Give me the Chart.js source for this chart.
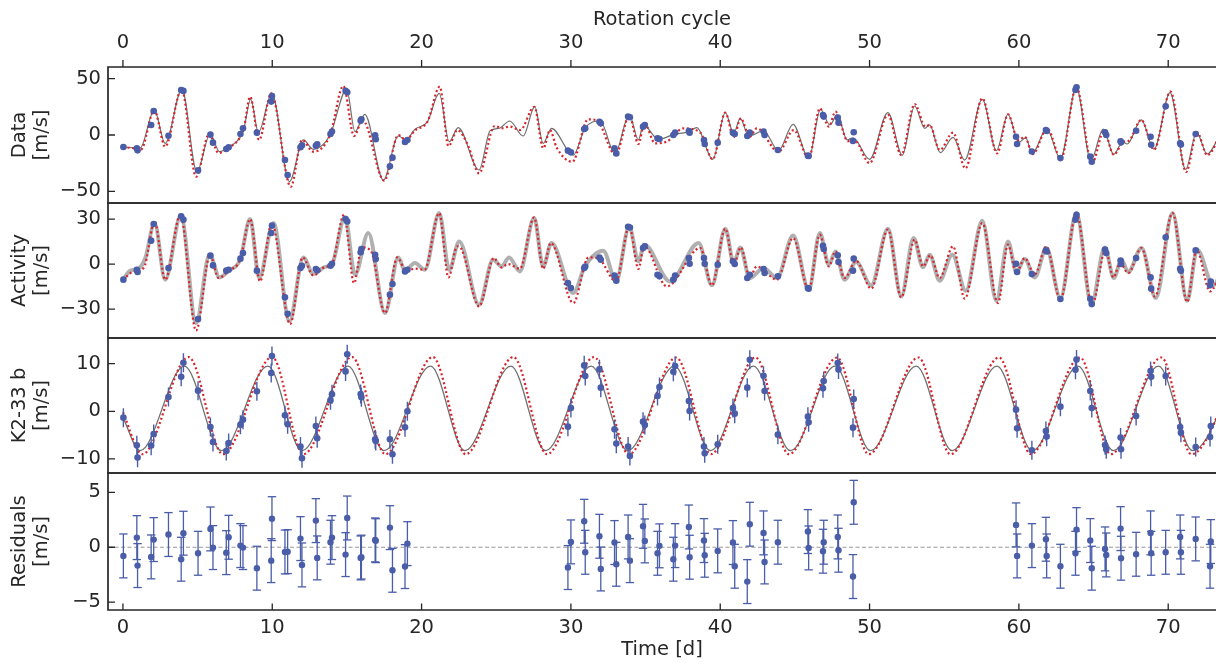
<!DOCTYPE html>
<html><head><meta charset="utf-8">
<script src="https://cdn.jsdelivr.net/npm/chart.js@4.4.1/dist/chart.umd.min.js"></script>
<style>
html,body{margin:0;padding:0;background:#fff;width:1216px;height:663px;overflow:hidden;}
canvas{position:absolute;left:0;}
</style></head><body>
<canvas id="c1" width="1216" height="210" style="top:0px"></canvas>
<canvas id="c2" width="1216" height="149" style="top:196px"></canvas>
<canvas id="c3" width="1216" height="149" style="top:331px"></canvas>
<canvas id="c4" width="1216" height="197" style="top:466px"></canvas>
<script>
// ---------------- DATA ----------------
const times = [0.03,0.93,0.98,1.89,2.06,3.05,3.9,4.05,5.03,5.86,6.03,6.92,7.08,7.87,8.04,8.97,9.93,9.98,10.85,11.03,11.89,11.99,12.92,13.01,13.9,14.0,14.91,15.02,15.92,15.97,16.89,16.93,17.88,18.05,18.89,19.05,
 29.8,30.0,30.89,30.96,31.91,32.0,32.92,33.04,33.83,33.95,34.83,34.95,35.8,35.93,36.86,36.98,37.9,37.95,38.91,38.96,39.83,40.85,40.97,41.81,41.98,42.9,42.97,43.86,45.87,45.92,46.88,46.93,47.87,47.92,48.89,48.94,
 59.81,59.88,60.87,61.81,61.86,62.78,63.79,63.86,64.78,64.88,65.77,65.85,66.81,66.84,67.85,68.82,68.86,69.83,70.8,70.85,71.84,72.8,72.85];
// (no data-panel points visible at 72.8 / 72.85)
const dataRV = [-10.7,-11.8,-13.6,8.9,21.3,-0.6,39.9,39.1,-31.4,0.3,-6.8,-12.4,-10.9,0.9,5.9,2.1,29.6,34.6,-22.2,-35.5,-10.9,-9.2,-9.5,-8.3,0.9,3.0,39.3,37.9,12.7,13.9,-0.3,-3.8,-27.8,-20.1,-6.2,-4.4,
 -13.9,-15.4,5.3,5.9,11.8,10.4,-11.8,-16.3,16.3,15.7,7.4,8.9,-3.0,-3.6,0,2.1,3.6,2.1,-4.4,-8.0,-6.8,2.1,0.9,-0.9,2.1,3.0,0,-13.3,-18.3,-18.6,17.8,16.3,15.4,10.9,-5.3,2.4,
 -1.5,-8.0,-14.6,4.4,3.6,-20.5,40.0,42.4,-19.2,-23.7,2.4,0,-5.6,-6.5,3.8,-1.5,-8.6,25.4,-7.4,-8.5,0.9,null,null];
const activityRV = [-10.4,-3.8,-5.3,15.6,26.7,-2.7,31.8,29.6,-36.7,5.6,-0.9,-4.4,-3.8,3.6,7.3,-4.4,20.7,25.6,-22.2,-33.1,-2.7,-1.1,-3.3,-4.2,-1.1,0.2,30,28.4,7.8,10,6.2,3.3,-20.4,-13.3,-4.9,-3.8,
 -12.7,-16,-2.7,-1.6,4.4,2.9,-7.6,-11.1,24.9,24.4,10.7,11.8,-7.1,-8.2,-10.4,-7.6,4,0.2,4,0.2,-0.4,1.8,0,-9.3,-7.1,-3.3,-6,-8.2,-16,-16.4,12.2,10,5.8,1.3,-4.4,3.6,
 0.2,-5.3,-6.7,9.1,8.4,-23.3,29.6,32.9,-23.1,-26.7,9.6,7.3,2.4,0,4,-8.9,-16.4,17.8,-3.1,-4.5,9.1,-14.2,-11.6];
const planetRV = [-1.33,-7.13,-9.72,-7.2,-4.76,3.0,7.27,10.2,4.34,-3.29,-6.43,-8.32,-6.64,-2.8,-1.75,4.2,8.04,11.6,-0.84,-2.73,-7.41,-9.86,-3.08,-5.66,2.31,3.57,8.39,12.0,3.64,2.94,-5.87,-6.22,-5.87,-9.02,-3.36,0.0,
 -3.22,0.7,9.65,7.41,8.81,4.97,-3.78,-6.78,-7.41,-9.37,-2.17,-2.87,3.22,5.1,8.32,9.51,2.17,0.07,-7.41,-8.81,-6.92,0.7,-0.49,4.97,10.84,7.48,4.27,-4.9,-1.12,-2.31,4.83,6.36,10.14,8.81,-3.43,2.59,
 0.35,-3.57,-8.18,-4.13,-5.31,0.98,8.74,10.9,4.27,0.7,-7.06,-7.97,-5.52,-7.97,-0.98,8.46,7.27,7.41,-3.29,-4.48,-7.48,-5.38,-3.08];
const residualRV = [-0.79,0.88,-1.67,-0.88,0.70,1.16,-1.09,1.28,-0.55,1.67,-0.03,-0.49,0.91,0.15,-0.03,-1.91,-1.22,2.61,-0.43,-0.40,0.79,-1.61,2.43,-0.97,0.46,0.88,-0.67,2.67,-0.97,-0.9,0.67,0.6,1.79,-2.10,-1.76,0.33,
 -1.85,0.49,2.37,-0.46,1.0,-1.98,0.43,-1.55,0.94,-1.22,1.91,0.58,-0.55,0.13,-1.09,0.15,1.85,-0.91,0.61,-0.73,-0.33,0.43,-1.73,-3.13,2.1,1.31,-1.34,0.46,1.43,-0.06,-0.36,0.46,0.94,-0.27,-2.67,4.1,
 2.04,-0.79,0.15,0.73,-0.79,-1.73,-0.55,1.61,0.61,-1.91,-0.15,-0.7,1.7,-1.0,-0.64,1.31,-0.55,-0.46,0.94,-0.46,0.76,-1.73,0.52];
const rvErr = [2.0,2.0,2.0,2.0,2.0,2.0,2.0,2.0,2.0,2.0,2.0,2.0,2.0,2.0,2.0,2.0,2.0,2.0,2.0,2.0,2.0,2.0,2.0,2.0,2.0,2.0,2.0,2.0,2.0,2.0,2.0,2.0,2.0,2.0,2.0,2.0,
 2.0,2.0,2.0,2.0,2.0,2.0,2.0,2.0,2.0,2.0,2.0,2.0,2.0,2.0,2.0,2.0,2.0,2.0,2.0,2.0,2.0,2.0,2.0,2.0,2.0,2.0,2.0,2.0,2.0,2.0,2.0,2.0,2.0,2.0,2.0,2.0,
 2.0,2.0,2.0,2.0,2.0,2.0,2.0,2.0,2.0,2.0,2.0,2.0,2.0,2.0,2.0,2.0,2.0,2.0,2.0,2.0,2.0,2.0,2.0];

// model curves (read at turning points), [time, value]
const dataModel = [[0,-10.8],[1.15,-11.5],[2.1,22],[2.83,-7.4],[3.95,40.5],[4.95,-32.5],[5.84,0.9],[6.47,-14.8],[7.07,-11],[7.85,-2],[8.1,6],[8.56,31.7],[9.07,2.1],[9.97,37],[11.15,-41.4],[12.08,-4.4],[12.75,-12.7],[13.87,0],[14.98,40.5],[15.54,3.0],[16.2,18.3],[17.44,-40],[18.44,-0.9],[18.95,-4.2],[19.55,5],[20.4,12],[21.18,37],[21.85,-5.9],[22.45,6.5],[23.85,-31],[24.6,4],[25.2,6],[25.9,12.4],[26.8,-0.9],[27.58,25.1],[28.14,-7.4],[28.7,5.9],[30.16,-17.8],[30.94,5.9],[31.95,12.4],[32.95,-16.3],[33.91,17.8],[34.52,-4.4],[34.85,8.9],[35.86,-3.8],[36.9,0.5],[37.9,3],[38.43,6.5],[39.5,-21.6],[40.34,19.8],[40.9,1.5],[41.34,14.8],[41.9,-0.9],[42.9,3.6],[43.9,-13.9],[44.88,9.5],[45.93,-20.7],[46.71,22.8],[47.34,8.9],[47.83,17.8],[48.5,-4.4],[48.9,-2.5],[50.0,-21.6],[51.23,19.8],[52.19,-17.8],[53.02,25.7],[53.69,5.9],[54.02,8.9],[54.74,-15.7],[55.59,-2.1],[56.37,-22.2],[57.55,31.7],[58.49,-13.9],[59.27,18.3],[60.0,-6.5],[60.45,-2.5],[60.9,-16.3],[61.86,5.6],[62.78,-21],[63.85,42],[64.82,-22.5],[65.65,5.2],[66.35,-17.2],[66.95,-6.3],[67.25,-8],[68.2,13.4],[69.05,-12.6],[70.12,37.5],[71.17,-30.5],[71.9,2.4],[72.6,-16.8],[73.6,4]];
const dataTrue = [[0,-11],[0.6,-11.5],[1.2,-13],[2.1,22],[2.83,-10.4],[3.93,40.5],[4.9,-37],[5.77,0.9],[6.4,-16],[7.07,-11.5],[7.85,-2],[8.1,6],[8.52,34],[9.12,-4.4],[9.93,37],[11.24,-45.9],[12.0,-4.4],[12.75,-14.8],[13.87,0],[14.76,43.5],[15.48,-0.9],[16.05,13.3],[17.5,-40.5],[18.44,0],[18.95,-4.5],[19.55,4],[20.4,12],[21.22,42.9],[21.8,-9.8],[22.4,4.4],[23.1,-9],[23.85,-34],[24.9,8],[25.4,6],[25.9,7.5],[26.6,4.4],[27.55,25],[28.15,-11.8],[28.6,4.4],[29.04,-11],[30.1,-23.7],[31.15,13.9],[31.7,13.3],[33.0,-17.8],[33.91,16.9],[34.52,-8],[34.92,10.4],[35.64,-7.4],[36.42,-5.9],[37.54,5.9],[38.66,2.1],[39.5,-21.6],[40.34,19.8],[40.9,-2],[41.38,14.8],[41.97,-1.5],[42.45,5.9],[43.9,-14.8],[44.92,4.4],[45.93,-20.7],[46.67,23.7],[47.27,7.4],[47.72,20.7],[48.55,-5.5],[49.0,-5],[50.0,-25],[51.23,17.8],[52.12,-17.8],[53.02,27.5],[53.74,7.4],[54.02,8.9],[54.7,-13.3],[55.59,2.1],[56.42,-29.6],[57.55,32.5],[58.54,-16.3],[59.27,18.3],[59.95,-4.5],[60.4,-1.5],[60.92,-17],[61.9,5.6],[62.82,-21],[63.85,42.5],[64.9,-25],[65.7,3.8],[66.35,-17.5],[67.0,-6],[67.35,-5.2],[68.2,13.4],[69.05,-13],[70.15,38.5],[71.2,-32.8],[71.93,2.4],[72.62,-18],[73.6,4]];
const activityModel = [[0,-10.5],[0.5,-4.4],[1.05,-3],[1.5,4],[2.12,27.3],[2.83,-10.4],[3.88,32.4],[4.9,-39.3],[5.8,6.2],[6.47,-8.9],[7.07,-4.5],[7.85,3],[8.52,30],[9.12,-9.3],[10.08,27.3],[11.15,-38.2],[12.08,4.4],[12.75,-6.7],[13.5,-2],[14.0,0],[14.87,31.3],[15.54,-7.1],[16.43,20.7],[17.55,-32.7],[18.44,4.4],[18.89,-4.4],[19.55,0.7],[20.22,-3.8],[21.18,34],[21.85,-3.8],[22.52,15.1],[23.85,-27.1],[24.79,2.9],[25.35,-1.6],[25.86,4.4],[26.58,-4.9],[27.54,30.7],[28.14,-1.6],[28.7,14],[30.16,-19.3],[30.94,-1.5],[32.17,8.9],[33.02,-11.6],[33.91,25.1],[34.52,1.8],[34.92,12.9],[36.64,-11.6],[38.55,14],[39.44,-14.2],[40.34,23.6],[40.9,0.7],[41.34,11.1],[41.97,-9.3],[42.9,-2.7],[43.8,-9.3],[44.88,19.1],[45.93,-17.1],[46.67,20.7],[47.27,-0.4],[47.72,8.4],[48.32,-10.4],[49.1,1.3],[50.11,-14.2],[51.23,23.6],[52.12,-21.6],[52.95,17.3],[53.58,-2.2],[54.02,6.2],[54.69,-11.1],[55.54,6.2],[56.44,-17.8],[57.55,28.9],[58.49,-24.4],[59.27,15.1],[59.83,-5.3],[60.39,3.3],[61.06,-8.9],[61.84,10.7],[62.78,-22.7],[63.85,34],[64.86,-26.7],[65.75,11.1],[66.36,-9.3],[66.87,2.9],[67.32,-5.3],[68.21,10.7],[69.17,-22.7],[70.29,34],[71.27,-24.4],[71.94,9.6],[73.02,-14.2],[73.6,-4]];
const activityTrue = [[0,-10.5],[0.7,-5],[1.4,-2.5],[2.12,28.4],[2.83,-10.4],[3.85,32.9],[4.9,-44.4],[5.84,6.2],[6.4,-9.3],[7.07,-4.5],[7.85,3],[8.52,30],[9.18,-11.6],[9.97,27],[11.2,-40],[12.04,4.4],[12.75,-7.6],[13.5,-2],[14.0,0],[14.8,32.9],[15.48,-12.7],[16.0,11.1],[16.6,8.9],[17.55,-32.7],[18.37,4.4],[18.95,-4.4],[19.6,-3.1],[20.2,-3.8],[21.18,34],[21.8,-8.9],[22.38,11.8],[22.7,9.5],[23.85,-28.2],[24.84,4],[25.35,-2.2],[25.8,0],[26.58,-3.1],[27.54,31.1],[28.14,-3.1],[28.65,14],[30.16,-26],[31.17,4.4],[31.8,4],[33.02,-11.6],[33.91,25.1],[34.52,-3.3],[34.9,12],[36.42,-14.9],[38.66,10.7],[39.44,-14.2],[40.34,23.6],[40.9,-0.4],[41.38,11.1],[41.97,-8.9],[42.45,-1.6],[43.8,-10.4],[44.88,17.3],[45.93,-17.1],[46.67,19.6],[47.27,-1.6],[47.72,8.4],[48.32,-9.3],[49.1,2.2],[50.11,-16.4],[51.23,23],[52.12,-22.2],[53.02,16.2],[53.58,-1.5],[54.07,5.8],[54.69,-9.3],[55.59,11.8],[56.37,-23.1],[57.55,27.3],[58.6,-26],[59.27,12.9],[59.83,-6],[60.39,4],[61.06,-7],[61.84,11.8],[62.78,-23.8],[63.85,34],[64.9,-27.6],[65.8,9.6],[66.33,-8.9],[66.78,0.7],[67.32,-6],[68.21,10.7],[69.11,-21.6],[70.29,34],[71.27,-25.3],[71.9,9.6],[72.8,-18.2],[73.6,-4]];
const planetModel = [[0,-1.3],[1.15,-8.25],[4.11,9.5],[6.6,-8.25],[9.71,9.5],[11.99,-8.25],[15.07,9.5],[17.49,-8.25],[20.6,9.5],[22.9,-8.25],[25.98,9.5],[28.3,-8.25],[31.36,9.5],[33.8,-8.25],[36.93,9.5],[39.35,-8.25],[42.22,9.5],[44.71,-8.25],[47.68,9.5],[50.07,-8.25],[53.12,9.5],[55.53,-8.25],[58.53,9.5],[60.9,-8.25],[63.96,9.5],[66.33,-8.25],[69.35,9.5],[71.64,-8.25],[74.8,9.5]];
const planetTrue = [[0,-0.2],[1.3,-9],[4.4,11.4],[6.7,-9],[10.0,11.4],[12.08,-9],[15.35,11.4],[17.58,-9],[20.75,11.4],[22.95,-9],[26.15,11.4],[28.4,-9],[31.55,11.4],[33.88,-9],[37.05,11.3],[39.38,-9],[42.36,11.3],[44.6,-9],[47.82,11.3],[49.95,-9],[53.28,11.3],[55.42,-9],[58.67,11.3],[60.8,-9],[64.1,11.3],[66.15,-9],[69.55,11.3],[71.55,-9],[74.9,11.3]];
const residualZero = [[-1,0],[73.2,0]];

// tick labels
const timeTicks = [0,10,20,30,40,50,60,70];
const cycleTicks = [0,10,20,30,40,50,60,70];
const dataTicks = [-50,0,50];
const activityTicks = [-30,0,30];
const planetTicks = [-10,0,10];
const residualTicks = [-5,0,5];

// ---------------- STYLE ----------------
const X_MIN = -1, X_MAX = 73.2;
const FONT = "'DejaVu Sans', sans-serif";
const FS = 19.5;
const TXT = '#262626';
const BLUE = '#4a5da9';
const RED = '#d8232a';

function pairs(arr){ return arr.map(p=>({x:p[0], y:p[1]})); }
function pts(vals){ return times.map((t,i)=>({x:t, y:vals[i]})); }
function bars(vals){ const o=[]; times.forEach((t,i)=>{ o.push({x:t,y:vals[i]-rvErr[i]},{x:t,y:vals[i]+rvErr[i]},{x:t,y:null}); }); return o; }
function caps(vals){ const o=[]; times.forEach((t,i)=>{ o.push({x:t,y:vals[i]-rvErr[i]},{x:t,y:vals[i]+rvErr[i]}); }); return o; }
function fmt(v){ return v<0 ? '\u2212'+Math.abs(v) : String(v); }

const framePlugin = {
  id:'frame',
  afterDraw(chart, args, o){
    const {ctx, chartArea:a} = chart;
    ctx.save();
    ctx.strokeStyle = TXT;
    ctx.lineWidth = 1.3;
    ctx.beginPath();
    const ys = chart.scales.y;
    ys.ticks.forEach(t=>{ const p = ys.getPixelForValue(t.value); ctx.moveTo(a.left, p); ctx.lineTo(a.left+7, p); });
    const xs = chart.scales.x;
    if (o.xTicks === 'top') xs.ticks.forEach(t=>{ const p = xs.getPixelForValue(t.value); ctx.moveTo(p, a.top); ctx.lineTo(p, a.top-7); });
    if (o.xTicks === 'bottom') xs.ticks.forEach(t=>{ const p = xs.getPixelForValue(t.value); ctx.moveTo(p, a.bottom); ctx.lineTo(p, a.bottom-6.5); });
    ctx.stroke();
    ctx.lineWidth = 1.7;
    ctx.beginPath();
    ctx.moveTo(a.right+2, a.top); ctx.lineTo(a.left, a.top); ctx.lineTo(a.left, a.bottom); ctx.lineTo(a.right+2, a.bottom);
    ctx.stroke();
    ctx.restore();
  }
};

function lineDs(arr, color, width, dash){
  return {data:pairs(arr), borderColor:color, borderWidth:width, borderDash:dash||[], pointRadius:0, fill:false,
    cubicInterpolationMode:'monotone', borderCapStyle:'butt', borderJoinStyle:'round'};
}
function markerDs(vals, r){
  return {data:pts(vals), showLine:false, pointRadius:r, pointBackgroundColor:BLUE, pointBorderWidth:0, pointStyle:'circle'};
}
function barDs(vals, w){
  return {data:bars(vals), borderColor:BLUE, borderWidth:w, pointRadius:0, spanGaps:false, tension:0};
}
function capDs(vals){
  return {data:caps(vals), showLine:false, pointStyle:'line', pointRadius:4.2, pointBorderColor:BLUE, pointBorderWidth:1.3, pointBackgroundColor:BLUE};
}

function makeChart(id, c){
  const tickFont = {family:FONT, size:FS, lineHeight:1.1};
  const xOpts = {
    type:'linear', min:X_MIN, max:X_MAX,
    display: c.xMode !== 'none',
    position: c.xMode === 'top' ? 'top' : 'bottom',
    grid:{display:false, drawTicks:false}, border:{display:false},
    afterBuildTicks: s => { s.ticks = (c.xMode==='top' ? cycleTicks : timeTicks).map(v=>({value:v})); },
    afterFit: s => { s.height = (c.xMode==='top') ? 67 : (c.xMode==='bottom' ? 53 : 0); s.paddingLeft=0; s.paddingRight=0; s.paddingTop=0; s.paddingBottom=0; },
    ticks:{padding: c.xMode==='top' ? 13 : 7, color:TXT, font:tickFont, callback: v=>fmt(v), maxRotation:0, autoSkip:false},
    title:{display: c.xMode !== 'none', text: c.xMode==='top' ? 'Rotation cycle' : 'Time [d]', color:TXT, font:tickFont,
      padding: c.xMode==='top' ? {top:9, bottom:0} : {top:0, bottom:2}}
  };
  const yOpts = {
    type:'linear', min:c.yMin, max:c.yMax, position:'left',
    grid:{display:false, drawTicks:false}, border:{display:false},
    afterBuildTicks: s => { s.ticks = c.yTicks.map(v=>({value:v})); },
    afterFit: s => { s.width = 108; s.paddingLeft=0; s.paddingRight=0; s.paddingTop=0; s.paddingBottom=0; },
    ticks:{padding:7, color:TXT, font:tickFont, callback: v=>fmt(v)},
    title:{display:true, text:c.yTitle, color:TXT, font:tickFont, padding:{top:9.5, bottom:0}}
  };
  return new Chart(document.getElementById(id), {
    type:'line',
    data:{datasets:c.datasets},
    options:{
      responsive:false, animation:false, devicePixelRatio:1, events:[],
      layout:{padding:c.pad, autoPadding:false},
      plugins:{legend:{display:false}, tooltip:{enabled:false}, frame:{xTicks:c.xMode}},
      scales:{x:xOpts, y:yOpts}
    },
    plugins:[framePlugin]
  });
}

makeChart('c1', {
  xMode:'top', yMin:-60.3, yMax:60.3, yTicks:dataTicks, yTitle:['Data','[m/s]'],
  pad:{top:0, bottom:7, left:0, right:0},
  datasets:[ markerDs(dataRV, 3.3), lineDs(dataTrue, RED, 2.2, [2,2.6]), lineDs(dataModel, '#6e6e6e', 1.2) ]
});
makeChart('c2', {
  xMode:'none', yMin:-49.3, yMax:40.7, yTicks:activityTicks, yTitle:['Activity','[m/s]'],
  pad:{top:7, bottom:7, left:0, right:0},
  datasets:[ markerDs(activityRV, 3.3), lineDs(activityTrue, RED, 2.2, [2,2.6]), lineDs(activityModel, '#b0b0b0', 4) ]
});
makeChart('c3', {
  xMode:'none', yMin:-12.95, yMax:15.4, yTicks:planetTicks, yTitle:['K2-33 b','[m/s]'],
  pad:{top:7, bottom:7, left:0, right:0},
  datasets:[ markerDs(planetRV, 3.3), barDs(planetRV, 1.4), lineDs(planetTrue, RED, 2.2, [2,2.6]), lineDs(planetModel, '#707070', 1.3) ]
});
makeChart('c4', {
  xMode:'bottom', yMin:-5.72, yMax:6.77, yTicks:residualTicks, yTitle:['Residuals','[m/s]'],
  pad:{top:7, bottom:0, left:0, right:0},
  datasets:[ markerDs(residualRV, 3.2), capDs(residualRV), barDs(residualRV, 1.3), lineDs(residualZero, '#999999', 1.1, [4,2.5]) ]
});
</script>
</body></html>
